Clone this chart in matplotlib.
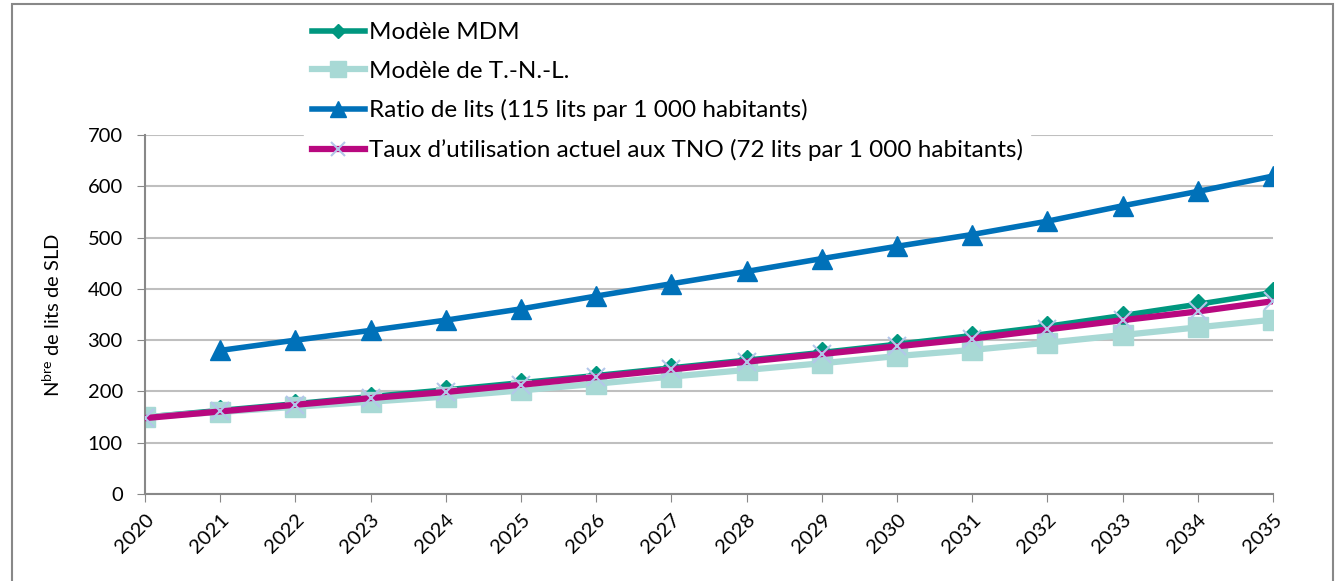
import numpy as np
import matplotlib
matplotlib.use('Agg')
from matplotlib import pyplot as plt
from matplotlib.patches import Rectangle

years = list(range(2020, 2036))
mdm = [150, 163, 176, 190, 203, 217, 231, 246, 261, 276, 292, 309, 327, 348, 370, 393]
tnl = [150, 160, 170, 180, 190, 202, 215, 229, 242, 255, 269, 281, 295, 310, 325, 340]
ratio_years = list(range(2021, 2036))
ratio = [280, 300, 319, 339, 361, 386, 410, 434, 459, 483, 506, 532, 562, 590, 620]
taux = [148, 161, 174, 187, 199, 213, 228, 243, 258, 273, 288, 303, 321, 339, 356, 376]

labels = ['Modèle MDM', 'Modèle de T.-N.-L.',
          'Ratio de lits (115 lits par 1 000 habitants)',
          'Taux d\u2019utilisation actuel aux TNO (72 lits par 1 000 habitants)']

plt.rcParams['font.family'] = ['Lato', 'DejaVu Sans']
plt.rcParams['mathtext.fontset'] = 'custom'
plt.rcParams['mathtext.rm'] = 'Lato'

fig = plt.figure(figsize = (13.4, 5.81), dpi = 100)
ax = fig.add_axes([0.1082, 0.1497, 0.8418, 0.6179])

h1, = ax.plot(years, mdm, color = '#00977F', lw = 4, marker = 'D', ms = 10, zorder = 2)
h2, = ax.plot(years, tnl, color = '#A8D9D5', lw = 4.5, marker = 's', ms = 15, zorder = 2.5)
h3, = ax.plot(ratio_years, ratio, color = '#0071B9', lw = 4, marker = '^', ms = 15, zorder = 3)
h4, = ax.plot(years, taux, color = '#B8087F', lw = 4.5, marker = 'x', ms = 13, mec = '#B3C6EA', mew = 1.5, zorder = 4)

ax.set_xlim(2020, 2035)
ax.set_ylim(0, 700)
ax.set_xticks(years)
ax.set_xticklabels([str(y) for y in years], rotation = 45, ha = 'right', rotation_mode = 'anchor', fontsize = 14.5)
ax.set_yticks(range(0, 701, 100))
ax.tick_params(axis = 'y', labelsize = 14.5, length = 6, color = '#888888', pad = 10)
ax.tick_params(axis = 'x', length = 6, color = '#888888', pad = 6)
ax.grid(axis = 'y', color = '#BFBFBF', lw = 1.5)
ax.set_axisbelow(True)
for s in ['top', 'right']:
    ax.spines[s].set_visible(False)
for s in ['left', 'bottom']:
    ax.spines[s].set_color('#888888')
    ax.spines[s].set_linewidth(1.5)
ax.set_ylabel(r'N$^{\mathrm{bre}}$ de lits de SLD', fontsize = 14.5, labelpad = 18)

leg = fig.legend([h1, h2, h3, h4], labels, loc = 'upper left', bbox_to_anchor = (0.218, 0.995),
                 frameon = True, fontsize = 17.5, handlelength = 2.2, handletextpad = 0.15,
                 labelspacing = 0.72, borderpad = 0.3, markerscale = 0.75, fancybox = False)
leg.get_frame().set_edgecolor('white')
leg.get_frame().set_facecolor('white')
leg.get_frame().set_alpha(1)

fig.patches.append(Rectangle((0.009, -0.1), 0.986, 1.093, transform = fig.transFigure,
                             fill = False, edgecolor = '#888888', lw = 1.5))

fig.savefig('out.png', dpi = 100)
